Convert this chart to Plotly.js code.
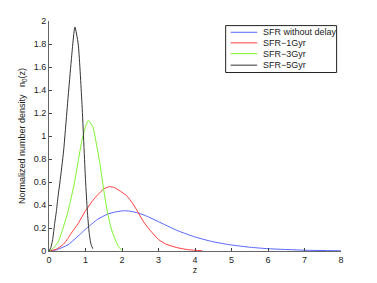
<!DOCTYPE html>
<html><head><meta charset="utf-8">
<script src="https://cdn.plot.ly/plotly-3.0.1.min.js"></script>
<style>html,body{margin:0;padding:0;background:#fff}#chart{width:377px;height:283px}</style>
</head><body><div id="chart"></div>
<script>
const seriesNames = ["SFR without delay", "SFR\u22121Gyr", "SFR\u22123Gyr", "SFR\u22125Gyr"];
const seriesColors = ["#5566ff", "#ff3b3b", "#7cf52a", "#333333"];

const zBlue = [0, 0.2, 0.52, 0.885, 1.0, 1.34, 1.6, 1.8, 2.04, 2.2, 2.45, 2.7, 3.0, 3.5, 4.0, 4.5, 5.0, 5.5, 6.0, 7.0, 8.0];
const nBlue = [0, 0.01, 0.054, 0.155, 0.19, 0.277, 0.32, 0.338, 0.35, 0.347, 0.33, 0.30, 0.255, 0.18, 0.122, 0.08, 0.052, 0.033, 0.02, 0.007, 0.002];

const zRed = [0, 0.2, 0.4, 0.52, 0.6, 0.8, 1.0, 1.07, 1.2, 1.34, 1.5, 1.66, 1.8, 2.0, 2.13, 2.3, 2.45, 2.6, 2.77, 3.0, 3.2, 3.5, 3.8, 4.0, 4.2];
const nRed = [0, 0.015, 0.06, 0.11, 0.15, 0.24, 0.35, 0.38, 0.44, 0.49, 0.54, 0.56, 0.55, 0.51, 0.48, 0.41, 0.33, 0.25, 0.18, 0.1, 0.06, 0.03, 0.012, 0.006, 0.002];

const zGreen = [0, 0.1, 0.25, 0.34, 0.5, 0.6, 0.7, 0.8, 0.9, 1.0, 1.08, 1.2, 1.3, 1.4, 1.5, 1.6, 1.7, 1.8, 1.9, 2.0];
const nGreen = [0, 0.02, 0.08, 0.155, 0.32, 0.45, 0.6, 0.78, 0.96, 1.08, 1.135, 1.08, 0.93, 0.75, 0.53, 0.34, 0.2, 0.11, 0.04, 0.005];

const zBlack = [0, 0.05, 0.1, 0.155, 0.2, 0.25, 0.3, 0.4, 0.5, 0.6, 0.71, 0.8, 0.9, 1.0, 1.05, 1.1, 1.15, 1.2];
const nBlack = [0, 0.03, 0.1, 0.24, 0.34, 0.48, 0.6, 0.87, 1.25, 1.62, 1.948, 1.8, 1.3, 0.62, 0.35, 0.16, 0.06, 0.02];

const xTicks = [0, 1, 2, 3, 4, 5, 6, 7, 8];
const yTicks = [0, 0.2, 0.4, 0.6, 0.8, 1, 1.2, 1.4, 1.6, 1.8, 2];

const xs = [zBlue, zRed, zGreen, zBlack];
const ys = [nBlue, nRed, nGreen, nBlack];

const traces = xs.map((x, i) => ({
  x: x, y: ys[i], type: 'scatter', mode: 'lines', name: seriesNames[i],
  line: {color: seriesColors[i], width: 1, shape: 'spline', smoothing: 0.55},
  showlegend: false, hoverinfo: 'skip'
}));

const font = {family: 'Liberation Sans, Arial, sans-serif', size: 9, color: '#222'};

// manual legend (MATLAB-style compact box)
const shapes = [];
const annotations = [];
const lx0 = 0.605, lx1 = 0.985, ly0 = 0.776, ly1 = 0.98;
shapes.push({type: 'rect', xref: 'paper', yref: 'paper', x0: lx0, x1: lx1, y0: ly0, y1: ly1,
  line: {color: '#222', width: 1}, fillcolor: '#fff'});
const rowY = [0.951, 0.905, 0.858, 0.808];
seriesNames.forEach((nm, i) => {
  shapes.push({type: 'line', xref: 'paper', yref: 'paper', x0: 0.622, x1: 0.713, y0: rowY[i], y1: rowY[i],
    line: {color: seriesColors[i], width: 1}});
  annotations.push({xref: 'paper', yref: 'paper', x: 0.727, y: rowY[i], xanchor: 'left', yanchor: 'middle',
    text: nm, showarrow: false, font: font});
});

const axisCommon = {
  showgrid: false, zeroline: false, showline: true, linecolor: '#666', linewidth: 1,
  ticks: 'inside', ticklen: 3, tickcolor: '#444', tickwidth: 1, mirror: false,
  tickfont: font
};

const layout = {
  width: 377, height: 283,
  margin: {l: 49, r: 36, t: 21, b: 32, pad: 0},
  paper_bgcolor: '#fff', plot_bgcolor: '#fff',
  font: font,
  xaxis: Object.assign({}, axisCommon, {range: [0, 8], tickvals: xTicks, ticktext: xTicks.map(String),
    title: {text: 'z', font: font, standoff: 2}}),
  yaxis: Object.assign({}, axisCommon, {range: [0, 2], tickvals: yTicks, ticktext: yTicks.map(String),
    title: {text: 'Normalized number density&nbsp;&nbsp;&nbsp;n<sub>0</sub>(z)', font: font, standoff: 6}}),
  shapes: shapes, annotations: annotations
};

Plotly.newPlot('chart', traces, layout, {displayModeBar: false, staticPlot: true});
</script></body></html>
